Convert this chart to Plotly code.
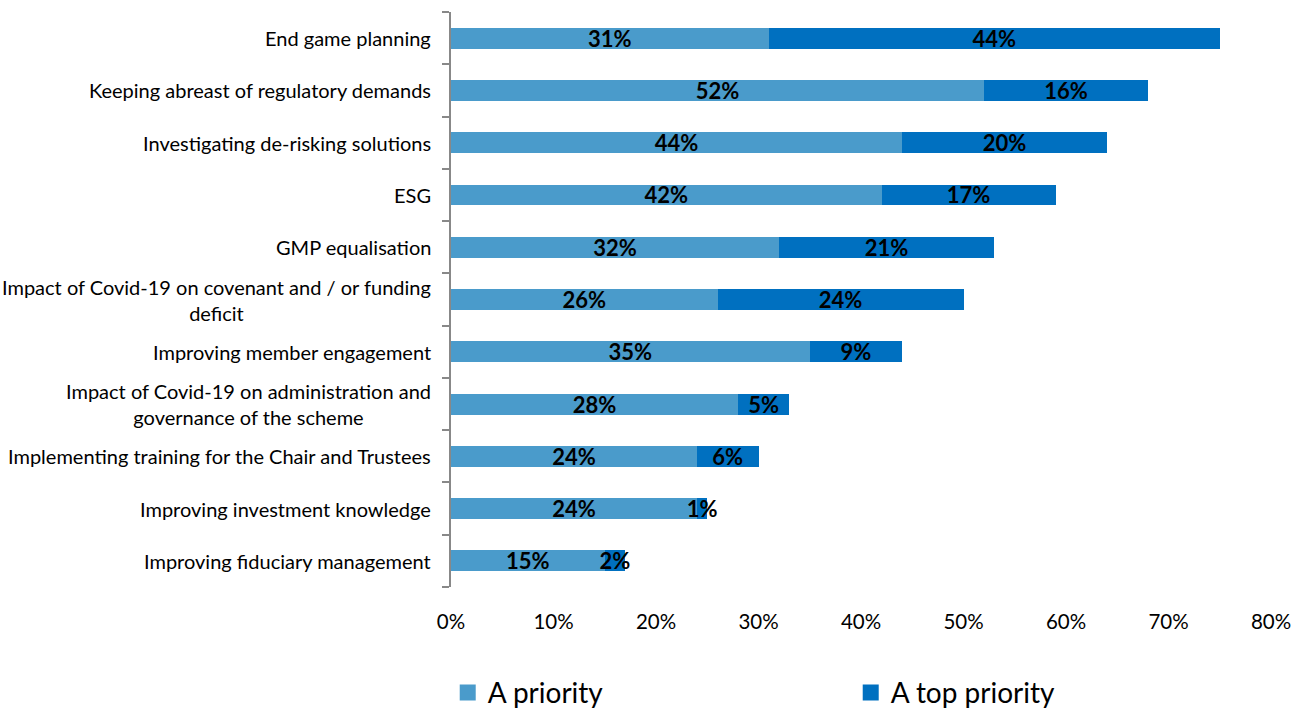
import plotly.graph_objects as go

# Survey priorities, listed top to bottom
categories = [
    "End game planning",
    "Keeping abreast of regulatory demands",
    "Investigating de-risking solutions",
    "ESG",
    "GMP equalisation",
    "Impact of Covid-19 on covenant and / or funding<br>deficit",
    "Improving member engagement",
    "Impact of Covid-19 on administration and<br>governance of the scheme",
    "Implementing training for the Chair and Trustees",
    "Improving investment knowledge",
    "Improving fiduciary management",
]
a_priority = [31, 52, 44, 42, 32, 26, 35, 28, 24, 24, 15]
top_priority = [44, 16, 20, 17, 21, 24, 9, 5, 6, 1, 2]
x_ticks = [0, 10, 20, 30, 40, 50, 60, 70, 80]

LIGHT = "#4A9BCB"
DARK = "#0070C0"
FONT = "Lato, 'Open Sans', sans-serif"

fig = go.Figure()
for name, vals, col in [("A priority", a_priority, LIGHT),
                        ("A top priority", top_priority, DARK)]:
    fig.add_trace(go.Bar(
        y=categories, x=vals, orientation="h", name=name,
        marker=dict(color=col, line=dict(width=0)),
        text=[f"{v}%" for v in vals], textposition="inside", textangle=0,
        insidetextanchor="middle", constraintext="none",
        textfont=dict(family=FONT, size=22, color="black", weight="bold"),
        cliponaxis=False, showlegend=False, hoverinfo="skip",
    ))
    # legend swatch
    fig.add_trace(go.Scatter(
        x=[None], y=[None], mode="markers", name=name,
        marker=dict(symbol="square", size=18, color=col),
    ))

# category labels, right-aligned block with centred lines
for c in categories:
    fig.add_annotation(
        x=0, xref="paper", y=c, yref="y", text=c, showarrow=False,
        xanchor="right", xshift=-18, align="center",
        font=dict(family=FONT, size=20, color="black"),
    )

fig.update_layout(
    barmode="stack", bargap=0.6,
    width=1305, height=711,
    margin=dict(l=451, r=34, t=12, b=124, autoexpand=False),
    plot_bgcolor="white", paper_bgcolor="white",
    font=dict(family=FONT, color="black"),
    legend=dict(orientation="h", x=-0.004, xanchor="left", y=-0.184, yanchor="middle",
                traceorder="normal", itemwidth=30,
                entrywidth=358, entrywidthmode="pixels",
                font=dict(family=FONT, size=28, color="black"),
                itemsizing="trace"),
    xaxis=dict(range=[0, 80], tickvals=x_ticks,
               ticktext=[f"{t}%" for t in x_ticks],
               showgrid=False, zeroline=False, showline=False,
               ticks="", ticklabelstandoff=20,
               tickfont=dict(family=FONT, size=20.5, color="black"),
               fixedrange=True),
    yaxis=dict(categoryorder="array", categoryarray=categories[::-1],
               showticklabels=False, showgrid=False, zeroline=False,
               showline=True, linecolor="#888888", linewidth=2,
               ticks="outside", ticklen=7, tickcolor="#888888", tickwidth=2,
               tickson="boundaries", fixedrange=True),
)

fig.write_html("out.html")
